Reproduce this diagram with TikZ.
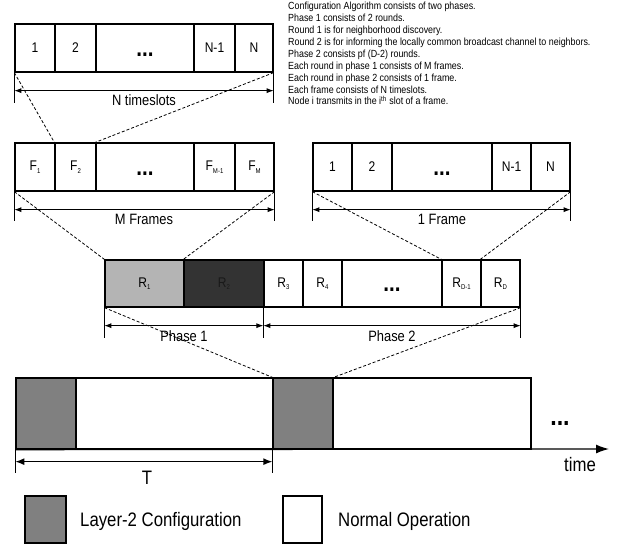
\documentclass[tikz,border=0pt]{standalone}
\usepackage{fontspec}
\setmainfont{Liberation Sans}[FakeStretch=0.86]
\usetikzlibrary{arrows.meta,calc}
\definecolor{lightgr}{HTML}{B4B4B4}
\definecolor{darkgr}{HTML}{333333}
\definecolor{midgr}{HTML}{808080}
\newcommand{\sbs}[1]{\raisebox{-2.5pt}{\fontsize{7}{7}\selectfont #1}}
\newcommand{\cellbox}[7][]{\node[cell,#1,minimum width={#4-#3},minimum height={#6-#5}] (#2) at ({(#3+#4)/2},{(#5+#6)/2}) {#7};}
\newcommand{\celldots}{\vphantom{N}\textbf{...}}
\begin{document}
\begin{tikzpicture}[x=1pt,y=-1pt,
  cell/.style={draw, line width=1.3pt, inner sep=0pt, font=\fontsize{14}{14}\selectfont},
  dotcell/.style={font=\fontsize{24}{24}\selectfont},
  fcell/.style={font=\fontsize{14}{14}\selectfont},
  dashconn/.style={line width=0.8pt, dash pattern=on 3pt off 2pt},
  dimline/.style={line width=0.8pt, {Latex[length=7pt,width=5pt]}-{Latex[length=7pt,width=5pt]}},
  tickline/.style={line width=0.6pt},
  dimlabel/.style={font=\fontsize{15}{15}\selectfont, inner sep=0pt, anchor=base},
  infotext/.style={font=\fontsize{10.35}{11}\selectfont, inner sep=0pt, anchor=base west},
  bigtext/.style={font=\fontsize{19.5}{19.5}\selectfont, inner sep=0pt},
]
\useasboundingbox (0,0) rectangle (639,545);

% info text
\foreach \i/\t in {1/{Configuration Algorithm consists of two phases.},
  2/{Phase 1 consists of 2 rounds.},
  3/{Round 1 is for neighborhood discovery.},
  4/{Round 2 is for informing the locally common broadcast channel to neighbors.},
  5/{Phase 2 consists pf (D-2) rounds.},
  6/{Each round in phase 1 consists of M frames.},
  7/{Each round in phase 2 consists of 1 frame.},
  8/{Each frame consists of N timeslots.},
  9/{Node i transmits in the i\textsuperscript{th} slot of a frame.}}
  \node[infotext] (info\i) at (288,{9.8+(\i-1)*11.9}) {\t};

% row 1: N timeslots
\cellbox{t1}{15}{55}{24}{72}{1}
\cellbox{t2}{55}{96}{24}{72}{2}
\cellbox[dotcell]{t3}{96}{194}{24}{72}{\celldots}
\cellbox{t4}{194}{235}{24}{72}{N-1}
\cellbox{t5}{235}{273}{24}{72}{N}

% row 2 left: M frames
\cellbox[fcell]{f1}{15}{55}{143}{191}{F\sbs{1}}
\cellbox[fcell]{f2}{55}{96}{143}{191}{F\sbs{2}}
\cellbox[dotcell]{f3}{96}{194}{143}{191}{\celldots}
\cellbox[fcell]{f4}{194}{235}{143}{191}{F\sbs{M-1}}
\cellbox[fcell]{f5}{235}{274}{143}{191}{F\sbs{M}}

% row 2 right: 1 frame
\cellbox{g1}{313}{352}{143}{191}{1}
\cellbox{g2}{352}{392}{143}{191}{2}
\cellbox[dotcell]{g3}{392}{492}{143}{191}{\celldots}
\cellbox{g4}{492}{531}{143}{191}{N-1}
\cellbox{g5}{531}{570}{143}{191}{N}

% row 3: rounds
\cellbox[fcell,fill=lightgr]{r1}{105}{184}{260}{307}{R\sbs{1}}
\cellbox[fcell,fill=darkgr,text=black!90]{r2}{184}{264}{260}{307}{R\sbs{2}}
\cellbox[fcell]{r3}{264}{303}{260}{307}{R\sbs{3}}
\cellbox[fcell]{r4}{303}{342}{260}{307}{R\sbs{4}}
\cellbox[dotcell]{r5}{342}{442}{260}{307}{\celldots}
\cellbox[fcell]{r6}{442}{481}{260}{307}{R\sbs{D-1}}
\cellbox[fcell]{r7}{481}{520}{260}{307}{R\sbs{D}}

% row 4: time line
\cellbox[fill=midgr]{b1}{16}{76}{378}{449}{}
\cellbox{b2}{76}{273}{378}{449}{}
\cellbox[fill=midgr]{b3}{273}{333}{378}{449}{}
\cellbox{b4}{333}{531}{378}{449}{}
\coordinate (tend) at (609,449);
\draw[line width=1.3pt,-{Latex[length=13pt,width=9pt]}] (b1.south west) -- (tend);
\node[bigtext,anchor=base] (timelbl) at (580,471.5) {time};
\node[inner sep=0pt,anchor=base,font=\fontsize{27}{27}\selectfont\bfseries] (bdots) at (560,425) {...};

% dimension: N timeslots
\draw[tickline] (t1.south west) -- ++(0,30) coordinate (k1);
\draw[tickline] (t5.south east) -- ++(0,30) coordinate (k2);
\draw[dimline] ($(t1.south west)+(0,18)$) -- ($(t5.south east)+(0,18)$);
\node[dimlabel] (lblN) at (144,105.4) {N timeslots};

% dimension: M Frames
\draw[tickline] (f1.south west) -- ++(0,29);
\draw[tickline] (f5.south east) -- ++(0,29);
\draw[dimline] ($(f1.south west)+(0,18)$) -- ($(f5.south east)+(0,18)$);
\node[dimlabel] (lblM) at (144,224.4) {M Frames};

% dimension: 1 Frame
\draw[tickline] (g1.south west) -- ++(0,29);
\draw[tickline] (g5.south east) -- ++(0,29);
\draw[dimline] ($(g1.south west)+(0,18)$) -- ($(g5.south east)+(0,18)$);
\node[dimlabel] (lbl1) at (442,224.4) {1 Frame};

% dimension: phases
\draw[tickline] (r1.south west) -- ++(0,30);
\draw[tickline] (r3.south west) -- ++(0,30);
\draw[tickline] (r7.south east) -- ++(0,30);
\draw[dimline] ($(r1.south west)+(0,18)$) -- ($(r3.south west)+(0,18)$);
\draw[dimline] ($(r3.south west)+(0,18)$) -- ($(r7.south east)+(0,18)$);
\node[dimlabel] (lblP1) at (184,341.5) {Phase 1};
\node[dimlabel] (lblP2) at (392,341.5) {Phase 2};

% dimension: T
\draw[tickline] (b1.south west) -- ++(0,23);
\draw[tickline] (b3.south west) -- ++(0,23);
\draw[line width=1.3pt,{Latex[length=9pt,width=7pt]}-{Latex[length=9pt,width=7pt]}] ($(b1.south west)+(0,12)$) -- ($(b3.south west)+(0,12)$);
\node[bigtext,anchor=base] (lblT) at (147,484) {T};

% zoom connectors
\draw[dashconn] (t1.south west) -- (f2.north west);
\draw[dashconn] (t5.south east) -- (f3.north west);
\draw[dashconn] (f1.south west) -- (r1.north west);
\draw[dashconn] (f5.south east) -- (r2.north west);
\draw[dashconn] (g1.south west) -- (r6.north west);
\draw[dashconn] (g5.south east) -- (r7.north west);
\draw[dashconn] (r1.south west) -- (b3.north west);
\draw[dashconn] (r7.south east) -- (b3.north east);

% legend
\cellbox[fill=midgr]{lg1}{25}{66}{496}{543}{}
\node[bigtext,anchor=base west] (lgt1) at (80,526.7) {Layer-2 Configuration};
\cellbox{lg2}{283}{322}{496}{543}{}
\node[bigtext,anchor=base west] (lgt2) at (338,526.7) {Normal Operation};
\end{tikzpicture}
\end{document}
